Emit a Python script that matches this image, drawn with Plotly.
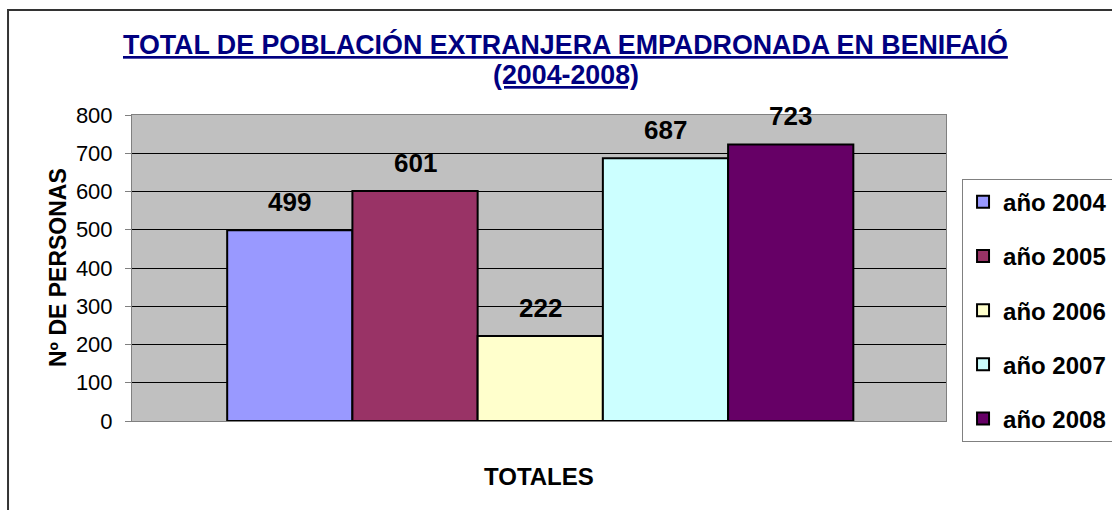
import plotly.graph_objects as go

# ---- data ----
series = ["año 2004", "año 2005", "año 2006", "año 2007", "año 2008"]
values = [499, 601, 222, 687, 723]
colors = ["#9999FF", "#993366", "#FFFFCC", "#CCFFFF", "#660066"]
y_ticks = [0, 100, 200, 300, 400, 500, 600, 700, 800]
title_line1 = "TOTAL DE POBLACIÓN EXTRANJERA EMPADRONADA EN BENIFAIÓ"
title_line2 = "(2004-2008)"
x_title = "TOTALES"
y_title = "Nº DE PERSONAS"

FONT = "Liberation Sans, Arial, sans-serif"

fig = go.Figure()
for i, (name, val, col) in enumerate(zip(series, values, colors)):
    fig.add_trace(go.Bar(
        x=[i], y=[val], name=name, width=1,
        legendgroup=name,
        marker=dict(color=col, line=dict(color="black", width=2)),
    ))
    fig.add_annotation(
        x=i, y=val, xref="x", yref="y", text=f"<b>{val}</b>",
        showarrow=False, yshift=28, yanchor="middle",
        font=dict(family=FONT, size=26, color="black"),
    )

# titles
fig.add_annotation(x=0.533, y=1.229, xref="paper", yref="paper",
                   text=f"<u><b>{title_line1}</b></u>", showarrow=False,
                   xanchor="center", yanchor="middle",
                   font=dict(family=FONT, size=26.8, color="#000080"))
fig.add_annotation(x=0.533, y=1.131, xref="paper", yref="paper",
                   text=f"<u><b>{title_line2}</b></u>", showarrow=False,
                   xanchor="center", yanchor="middle",
                   font=dict(family=FONT, size=26.8, color="#000080"))
fig.add_annotation(x=-0.0909, y=0.5, xref="paper", yref="paper",
                   text=f"<b>{y_title}</b>", showarrow=False, textangle=-90,
                   xanchor="center", yanchor="middle",
                   font=dict(family=FONT, size=23, color="black"))
fig.add_annotation(x=0.5, y=-0.18, xref="paper", yref="paper",
                   text=f"<b>{x_title}</b>", showarrow=False,
                   xanchor="center", yanchor="middle",
                   font=dict(family=FONT, size=24, color="black"))

# outer chart-area border
fig.add_shape(type="rect", xref="paper", yref="paper",
              x0=-0.1523, y0=-0.5, x1=1.4, y1=1.343,
              line=dict(color="#333333", width=2), fillcolor="rgba(0,0,0,0)",
              layer="below")

fig.update_layout(
    width=1112, height=510,
    margin=dict(l=132, r=166, t=115, b=89, autoexpand=False),
    paper_bgcolor="white", plot_bgcolor="#C0C0C0",
    font=dict(family=FONT, color="black"),
    barmode="overlay",
    showlegend=True,
    legend=dict(x=1.0197, y=0.792, xanchor="left", yanchor="top",
                bgcolor="white", bordercolor="#808080", borderwidth=1,
                font=dict(family=FONT, size=24, color="black", weight="bold"),
                traceorder="grouped", tracegroupgap=20),
    xaxis=dict(range=[-1.26, 5.24], showticklabels=False, showgrid=False,
               zeroline=False, showline=True, linecolor="#808080",
               mirror=True, ticks=""),
    yaxis=dict(range=[0, 800], tickvals=y_ticks, showgrid=True,
               gridcolor="black", gridwidth=1, zeroline=True,
               zerolinecolor="black", zerolinewidth=1,
               showline=True, linecolor="#808080", mirror=True,
               ticks="outside", ticklen=6, tickcolor="#808080",
               ticklabelstandoff=8,
               tickfont=dict(family=FONT, size=22, color="black")),
)

fig.write_html(
    "out.html",
    config={"displayModeBar": False},
    post_script="document.body.style.margin='0';document.body.style.overflow='hidden';",
)
